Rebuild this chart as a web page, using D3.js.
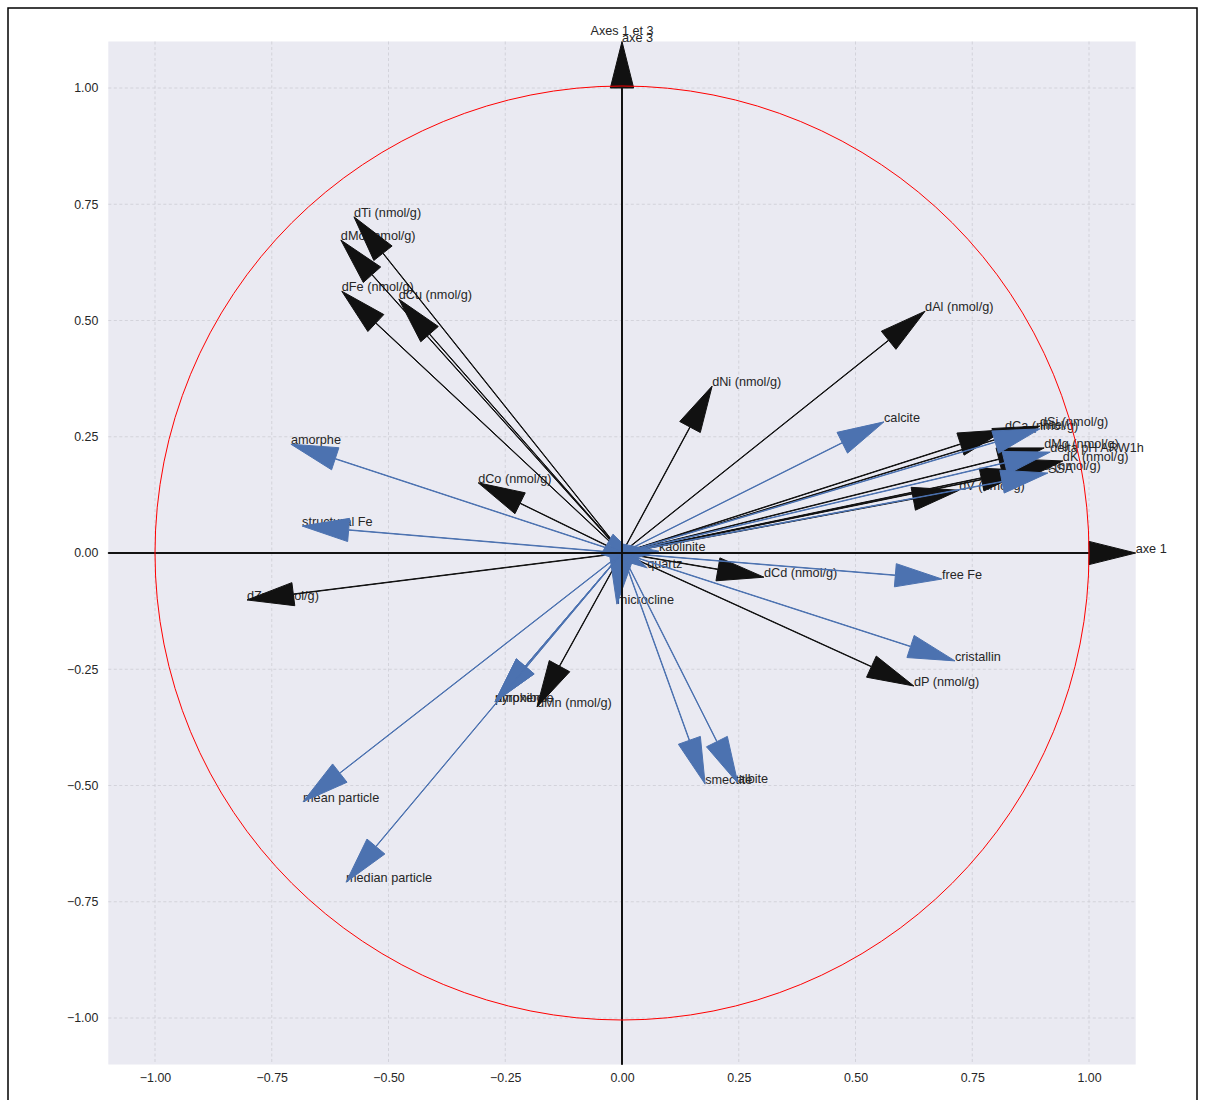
<!DOCTYPE html>
<html>
<head>
<meta charset="utf-8">
<script src="https://cdn.jsdelivr.net/npm/d3@7"></script>
<style>
  html, body { margin: 0; padding: 0; background: #ffffff; }
  text { font-family: "Liberation Sans", Arial, sans-serif; }
</style>
</head>
<body>
<svg id="chart" width="1205" height="1100"></svg>
<script>
// ---- data ----
const blackLabels = ["dTi (nmol/g)", "dMo (nmol/g)", "dFe (nmol/g)", "dCu (nmol/g)", "dAl (nmol/g)",
  "dNi (nmol/g)", "dCo (nmol/g)", "dZn (nmol/g)", "dCd (nmol/g)", "dP (nmol/g)", "dMn (nmol/g)",
  "dCa (nmol/g)", "dSi (nmol/g)", "dMg (nmol/g)", "dK (nmol/g)", "dNa (nmol/g)", "dV (nmol/g)"];
const blackX = [-0.574, -0.602, -0.600, -0.478, 0.649, 0.193, -0.308, -0.803, 0.304, 0.625, -0.182,
  0.820, 0.895, 0.904, 0.944, 0.868, 0.722];
const blackY = [0.723, 0.673, 0.563, 0.546, 0.520, 0.359, 0.151, -0.101, -0.052, -0.286, -0.331,
  0.265, 0.273, 0.226, 0.198, 0.178, 0.135];

const blueLabels = ["calcite", "amorphe", "structural Fe", "kaolinite", "quartz", "microcline",
  "free Fe", "cristallin", "pyroxene", "amphibole", "mean particle", "median particle",
  "smectite", "albite", "illite", "delta pH ARW1h", "SSA"];
const blueX = [0.561, -0.709, -0.685, 0.079, 0.054, -0.011, 0.685, 0.713, -0.272, -0.272, -0.683, -0.591,
  0.178, 0.248, 0.895, 0.917, 0.912];
const blueY = [0.282, 0.234, 0.058, 0.004, -0.032, -0.110, -0.056, -0.232, -0.320, -0.320, -0.535, -0.708,
  -0.497, -0.495, 0.267, 0.217, 0.172];

const tickValues = [-1.00, -0.75, -0.50, -0.25, 0.00, 0.25, 0.50, 0.75, 1.00];
const titleText = "Axes 1 et 3";
const axisLabels = ["axe 1", "axe 3"];

// ---- layout ----
const svg = d3.select("#chart");
const xs = d3.scaleLinear().domain([-1.1, 1.1]).range([108.3, 1135.7]);
const ys = d3.scaleLinear().domain([-1.1, 1.1]).range([1064.5, 41.5]);
const textColor = "#262626";
const blackCol = "#111111";
const blueCol = "#4c72b0";
const labelSize = "12.7px";

// outer frame
svg.append("rect").attr("x", 8).attr("y", 8).attr("width", 1189).attr("height", 1110)
  .attr("fill", "#ffffff").attr("stroke", "#000").attr("stroke-width", 1.5);

// plot background
svg.append("rect").attr("x", xs(-1.1)).attr("y", ys(1.1))
  .attr("width", xs(1.1) - xs(-1.1)).attr("height", ys(-1.1) - ys(1.1))
  .attr("fill", "#eaeaf2");

// grid
const grid = svg.append("g");
tickValues.forEach(v => {
  grid.append("line").attr("x1", xs(v)).attr("x2", xs(v)).attr("y1", ys(1.1)).attr("y2", ys(-1.1))
    .attr("stroke", "#cdcdd4").attr("stroke-width", 0.8).attr("stroke-dasharray", "3,2.5");
  grid.append("line").attr("y1", ys(v)).attr("y2", ys(v)).attr("x1", xs(-1.1)).attr("x2", xs(1.1))
    .attr("stroke", "#cdcdd4").attr("stroke-width", 0.8).attr("stroke-dasharray", "3,2.5");
});

// axes (tick labels only, no spines)
const fmt = v => d3.format(".2f")(v).replace("-", "\u2212");
const xAxis = d3.axisBottom(xs).tickValues(tickValues).tickFormat(fmt).tickSize(0).tickPadding(9);
const yAxis = d3.axisLeft(ys).tickValues(tickValues).tickFormat(fmt).tickSize(0).tickPadding(10);
const gx = svg.append("g").attr("transform", `translate(0,${ys(-1.1)})`).call(xAxis);
const gy = svg.append("g").attr("transform", `translate(${xs(-1.1)},0)`).call(yAxis);
[gx, gy].forEach(g => {
  g.select(".domain").remove();
  g.selectAll("text").attr("fill", textColor).style("font-size", "12.4px")
    .style("font-family", "'Liberation Sans', Arial, sans-serif");
});

// labels (drawn beneath arrows, as in reference)
const labels = svg.append("g").attr("font-size", labelSize).attr("fill", textColor);
blackLabels.forEach((l, i) => {
  labels.append("text").attr("x", xs(blackX[i])).attr("y", ys(blackY[i])).text(l);
});
blueLabels.forEach((l, i) => {
  labels.append("text").attr("x", xs(blueX[i])).attr("y", ys(blueY[i])).text(l);
});

// arrow polygon like matplotlib FancyArrow (length_includes_head=True)
function arrowPath(sx, sy, tx, ty, hw, hl, lw) {
  const dx = tx - sx, dy = ty - sy;
  const L = Math.hypot(dx, dy);
  const ux = dx / L, uy = dy / L;
  const nx = -uy, ny = ux;
  const bx = tx - hl * ux, by = ty - hl * uy;
  const pts = [
    [sx + nx * lw / 2, sy + ny * lw / 2],
    [bx + nx * lw / 2, by + ny * lw / 2],
    [bx + nx * hw / 2, by + ny * hw / 2],
    [tx, ty],
    [bx - nx * hw / 2, by - ny * hw / 2],
    [bx - nx * lw / 2, by - ny * lw / 2],
    [sx - nx * lw / 2, sy - ny * lw / 2]
  ];
  return "M" + pts.map(p => xs(p[0]).toFixed(2) + "," + ys(p[1]).toFixed(2)).join("L") + "Z";
}

const arrows = svg.append("g");
blackX.forEach((x, i) => {
  arrows.append("path").attr("d", arrowPath(0, 0, x, blackY[i], 0.05, 0.1, 0.001))
    .attr("fill", blackCol).attr("stroke", blackCol).attr("stroke-width", 1).attr("stroke-linejoin", "miter");
});
blueX.forEach((x, i) => {
  arrows.append("path").attr("d", arrowPath(0, 0, x, blueY[i], 0.05, 0.1, 0.001))
    .attr("fill", blueCol).attr("stroke", blueCol).attr("stroke-width", 1).attr("stroke-linejoin", "miter");
});

// main axes arrows
arrows.append("path").attr("d", arrowPath(-1.1, 0, 1.1, 0, 0.05, 0.1, 0.002))
  .attr("fill", blackCol).attr("stroke", blackCol).attr("stroke-width", 1);
arrows.append("path").attr("d", arrowPath(0, -1.1, 0, 1.1, 0.05, 0.1, 0.002))
  .attr("fill", blackCol).attr("stroke", blackCol).attr("stroke-width", 1);

// unit circle
svg.append("circle").attr("cx", xs(0)).attr("cy", ys(0))
  .attr("r", xs(1) - xs(0))
  .attr("fill", "none").attr("stroke", "#ff0000").attr("stroke-width", 1);

// axis names and title
svg.append("text").attr("x", xs(1.1)).attr("y", ys(0)).attr("font-size", labelSize).attr("fill", textColor).text(axisLabels[0]);
svg.append("text").attr("x", xs(0)).attr("y", ys(1.1)).attr("font-size", labelSize).attr("fill", textColor).text(axisLabels[1]);
svg.append("text").attr("x", xs(0)).attr("y", 35).attr("text-anchor", "middle")
  .attr("font-size", "12.6px").attr("fill", textColor).text(titleText);
</script>
</body>
</html>
